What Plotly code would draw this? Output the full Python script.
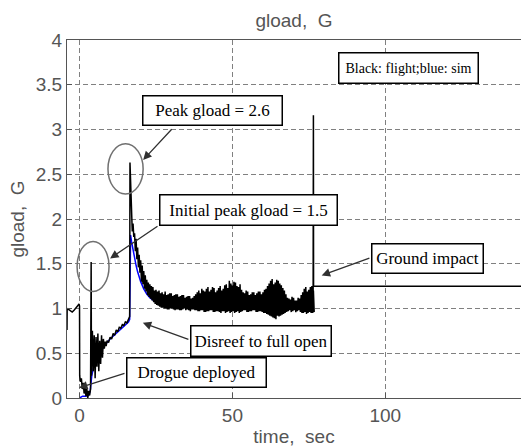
import plotly.graph_objects as go

# ---------------- data ----------------
# flight (black): pre-drogue, drogue phase, reefed ramp
t_pre = [-4.1, -4.05, -3.6, -3.0, -2.4, -1.8, -1.2, -0.6, -0.2, 0.0]
g_pre = [0.76, 1.00, 0.99, 0.97, 0.96, 0.98, 1.00, 1.03, 1.05, 1.03]

t_drogue = [0.05, 0.3, 0.6, 0.9, 1.2, 1.5, 1.8, 2.1, 2.4, 2.7, 3.0, 3.3, 3.6, 3.8, 3.9]
g_drogue = [0.25, 0.18, 0.22, 0.10, 0.17, 0.05, 0.12, 0.02, 0.10, 0.00, 0.08, 0.03, 0.10, 1.52, 0.25]

t_reefed = [4.2, 4.5, 4.8, 5.1, 5.4, 5.7, 6.0, 6.3, 6.6, 6.9, 7.2, 7.5, 7.8, 8.1, 8.4,
            8.7, 9.0, 9.5, 10.0, 10.5, 11.0, 11.5, 12.0, 12.5, 13.0, 13.5, 14.0, 14.5,
            15.0, 15.5, 16.0, 16.4, 16.5]
g_reefed = [0.75, 0.30, 0.70, 0.22, 0.68, 0.35, 0.72, 0.30, 0.64, 0.38, 0.70, 0.45, 0.66, 0.55, 0.63,
            0.58, 0.64, 0.62, 0.68, 0.66, 0.72, 0.70, 0.76, 0.74, 0.79, 0.78, 0.82, 0.81,
            0.85, 0.84, 0.89, 0.91, 2.63]

# full open: upper / lower envelope of the noisy flight signal (one pair per second, from t = 17)
t_full_start = 17
g_full_hi = [2.08, 1.84, 1.68, 1.54, 1.42, 1.32, 1.27, 1.24, 1.21, 1.20, 1.18, 1.19, 1.16, 1.17,
             1.15, 1.16, 1.14, 1.15, 1.13, 1.14, 1.12, 1.16, 1.20, 1.22, 1.19, 1.24, 1.21, 1.23,
             1.20, 1.25, 1.22, 1.27, 1.31, 1.26, 1.29, 1.24, 1.21, 1.17, 1.19, 1.16, 1.18, 1.17,
             1.19, 1.18, 1.22, 1.28, 1.33, 1.29, 1.31, 1.26, 1.20, 1.12, 1.10, 1.12, 1.09, 1.11,
             1.18, 1.24, 1.21, 1.25]
g_full_lo = [1.86, 1.64, 1.46, 1.30, 1.22, 1.15, 1.11, 1.07, 1.04, 1.02, 1.01, 1.00, 0.99, 1.00,
             0.98, 0.99, 0.98, 1.00, 0.99, 0.97, 0.99, 0.98, 0.97, 0.98, 0.96, 0.97, 0.98, 0.96,
             0.97, 0.95, 0.97, 0.96, 0.95, 0.97, 0.96, 0.95, 0.97, 0.98, 0.96, 0.97, 0.98, 0.96,
             0.97, 0.95, 0.94, 0.92, 0.90, 0.88, 0.91, 0.93, 0.95, 0.97, 0.96, 0.98, 0.97, 0.96,
             0.95, 0.94, 0.96, 0.95]
# mid-second samples (slightly lower peaks / higher troughs)
g_full_hi2 = [1.95, 1.78, 1.60, 1.48, 1.37, 1.29, 1.25, 1.20, 1.19, 1.17, 1.16, 1.15, 1.17, 1.14,
              1.16, 1.13, 1.15, 1.12, 1.14, 1.11, 1.14, 1.18, 1.17, 1.20, 1.22, 1.19, 1.24, 1.18,
              1.23, 1.20, 1.26, 1.23, 1.28, 1.30, 1.25, 1.27, 1.18, 1.20, 1.15, 1.18, 1.15, 1.19,
              1.16, 1.21, 1.25, 1.31, 1.27, 1.32, 1.28, 1.23, 1.16, 1.11, 1.13, 1.09, 1.12, 1.15,
              1.22, 1.19, 1.24, 1.20]
g_full_lo2 = [1.80, 1.55, 1.40, 1.27, 1.19, 1.13, 1.09, 1.05, 1.03, 1.01, 1.00, 0.99, 1.00, 0.99,
              0.99, 0.98, 0.99, 0.98, 0.98, 0.99, 0.98, 0.97, 0.98, 0.96, 0.97, 0.98, 0.96, 0.97,
              0.96, 0.97, 0.95, 0.97, 0.96, 0.95, 0.97, 0.96, 0.98, 0.96, 0.97, 0.98, 0.96, 0.97,
              0.96, 0.95, 0.93, 0.91, 0.89, 0.92, 0.92, 0.94, 0.96, 0.98, 0.97, 0.96, 0.98, 0.95,
              0.96, 0.95, 0.95, 0.96]

t_impact = [76.4, 76.5, 76.55, 146.0]
g_impact = [1.05, 3.16, 1.25, 1.25]

# simulation (blue)
t_sim = [0, 0.5, 1, 2, 3, 3.5, 4, 4.5, 5, 6, 7, 8, 10, 12, 14, 16, 16.4, 16.7, 17, 17.5, 18,
         18.5, 19, 19.5, 20, 21, 22, 23, 24, 25, 26, 28, 30, 35, 40, 45, 50, 55, 60, 65, 70, 76]
g_sim = [0.0, 0.01, 0.02, 0.02, 0.03, 0.08, 0.25, 0.33, 0.38, 0.45, 0.52, 0.58, 0.66, 0.72, 0.78,
         0.85, 0.88, 1.82, 1.75, 1.65, 1.56, 1.48, 1.41, 1.35, 1.30, 1.22, 1.16, 1.12, 1.09, 1.07,
         1.05, 1.04, 1.03, 1.02, 1.02, 1.02, 1.02, 1.02, 1.02, 1.02, 1.02, 1.02]

y_ticks = [0, 0.5, 1, 1.5, 2, 2.5, 3, 3.5, 4]
x_ticks = [0, 50, 100]

# ---------------- build flight series ----------------
t_full, g_full = [], []
for i in range(len(g_full_hi)):
    t0 = t_full_start + i
    t_full += [t0, t0 + 0.25, t0 + 0.5, t0 + 0.75]
    g_full += [g_full_hi[i], g_full_lo[i], g_full_hi2[i], g_full_lo2[i]]

t_flight = t_pre + t_drogue + t_reefed + t_full + t_impact
g_flight = g_pre + g_drogue + g_reefed + g_full + g_impact

fig = go.Figure()
fig.add_trace(go.Scatter(x=t_sim, y=g_sim, mode="lines",
                         line=dict(color="#0000ff", width=1.5), showlegend=False))
fig.add_trace(go.Scatter(x=t_flight, y=g_flight, mode="lines",
                         line=dict(color="#000000", width=1.5), showlegend=False))

axis_font = dict(family="Liberation Sans, Arial, sans-serif", size=19, color="#555555")
grid = dict(showgrid=True, gridcolor="#808080", gridwidth=1, griddash="5px,3px",
            showline=True, linecolor="#555555", linewidth=1, zeroline=False,
            ticks="inside", ticklen=5, tickcolor="#555555", tickfont=axis_font)

fig.update_layout(
    width=521, height=447,
    margin=dict(l=67, r=0, t=40, b=49),
    paper_bgcolor="white", plot_bgcolor="white",
    title=dict(text="gload,  G", x=0.5, xref="paper", y=1 - 20 / 447, yref="container",
               xanchor="center", yanchor="middle", font=axis_font),
    xaxis=dict(range=[-4.1, 144.4], tickvals=x_ticks, mirror=True,
               title=dict(text="time,  sec", font=axis_font, standoff=4), **grid),
    yaxis=dict(range=[0, 4], tickvals=y_ticks,
               title=dict(text="gload,  G", font=axis_font, standoff=6), **grid),
)

# ellipses around the peaks
for x0, x1, y0, y1 in [(9.3, 20.8, 2.28, 2.84), (-0.8, 9.65, 1.19, 1.75)]:
    fig.add_shape(type="circle", xref="x", yref="y", x0=x0, x1=x1, y0=y0, y1=y1,
                  line=dict(color="#707070", width=1.5))

serif = "Liberation Serif, Times New Roman, serif"
boxes = [
    ("Black: flight;blue: sim", 107.6, 3.69, 138, 29, 14),
    ("Peak gload = 2.6", 43.5, 3.21, 138, 28, 17),
    ("Initial peak gload = 1.5", 55.3, 2.10, 176, 29, 17),
    ("Disreef to full open", 59.4, 0.64, 139, 29, 17),
    ("Drogue deployed", 38.3, 0.29, 138, 28, 17),
    ("Ground impact", 113.8, 1.56, 110, 28, 17),
]
for text, x, y, w, h, fs in boxes:
    fig.add_annotation(x=x, y=y, xref="x", yref="y", text=text, showarrow=False,
                       width=w, height=h, font=dict(family=serif, size=fs, color="black"),
                       bgcolor="white", bordercolor="black", borderwidth=1.5, borderpad=0,
                       xanchor="center", yanchor="middle")

arrows = [  # head x, head y, tail x, tail y
    (20.8, 2.66, 30.6, 3.02),
    (10.0, 1.56, 26.0, 1.93),
    (20.7, 0.84, 36.1, 0.65),
    (-0.16, 0.115, 15.2, 0.28),
    (79.2, 1.37, 95.3, 1.57),
]
for hx, hy, tx, ty in arrows:
    fig.add_annotation(x=hx, y=hy, xref="x", yref="y", ax=tx, ay=ty, axref="x", ayref="y",
                       text="", showarrow=True, arrowhead=2, arrowsize=1.3, arrowwidth=1.3,
                       arrowcolor="#303030", standoff=0, startstandoff=0)

fig.write_html("out.html")
